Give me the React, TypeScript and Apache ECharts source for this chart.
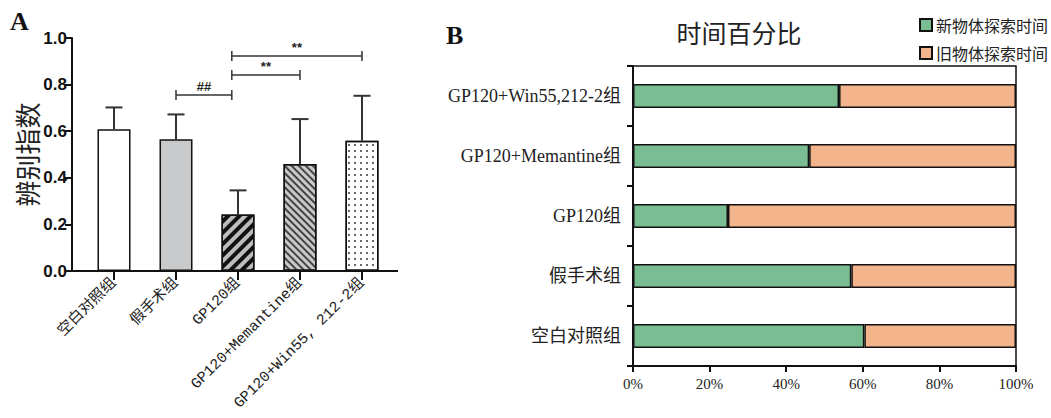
import React, { useEffect, useRef } from 'react';
import * as echarts from 'echarts';

// ---------- Panel A data ----------
const groupsA = ['空白对照组', '假手术组', 'GP120组', 'GP120+Memantine组', 'GP120+Win55, 212-2组'];
const meanA = [0.608, 0.565, 0.243, 0.459, 0.559];
const sdA = [0.094, 0.107, 0.103, 0.193, 0.193];
const sigPairs = [[1, 2], [2, 3], [2, 4]];
const sigLevels = [0.755, 0.841, 0.923];
const sigLabels = ['##', '**', '**'];
const yNameA = '辨别指数';

// ---------- Panel B data ----------
const groupsB = ['空白对照组', '假手术组', 'GP120组', 'GP120+Memantine组', 'GP120+Win55,212-2组'];
const newPct = [60.4, 57.0, 24.8, 46.0, 53.8];
const oldPct = [39.6, 43.0, 75.2, 54.0, 46.2];
const legendB = ['新物体探索时间', '旧物体探索时间'];
const titleB = '时间百分比';

// ---------- styles ----------
const barStylesA: any[] = [
  { color: '#ffffff' },
  { color: '#c8c9cb' },
  {
    color: '#bdbdbd',
    decal: { symbol: 'rect', color: '#111111', dashArrayX: [1, 0], dashArrayY: [3.2, 3.8], rotation: -Math.PI / 4 },
  },
  {
    color: '#c9c9c9',
    decal: { symbol: 'rect', color: '#444444', dashArrayX: [1, 0], dashArrayY: [1.2, 2.2], rotation: Math.PI / 4 },
  },
  {
    color: '#ffffff',
    decal: { symbol: 'rect', color: '#6a6a6a', dashArrayX: [1.3, 3.7], dashArrayY: [1.3, 3.7], rotation: 0 },
  },
];

const CJK = '"Noto Sans CJK SC", sans-serif';
const SERIF = '"Liberation Serif", "Times New Roman", "Noto Sans CJK SC", serif';
const MONO = '"Liberation Mono", "DejaVu Sans Mono", "Noto Sans CJK SC", monospace';
const SANS = '"Liberation Sans", Arial, sans-serif';

export default function App() {
  const ref = useRef<HTMLDivElement>(null);

  useEffect(() => {
    if (!ref.current) return;
    const chart = echarts.init(ref.current, null, { renderer: 'svg' });

    const option: any = {
      animation: false,
      backgroundColor: '#ffffff',
      title: {
        text: titleB,
        left: 734,
        top: 14,
        textAlign: 'center',
        textStyle: { fontFamily: CJK, fontSize: 25, fontWeight: 'normal', color: '#222' },
      },
      legend: {
        data: legendB,
        orient: 'vertical',
        left: 914,
        top: 12,
        itemWidth: 12,
        itemHeight: 12,
        itemGap: 12,
        icon: 'rect',
        textStyle: { fontFamily: CJK, fontSize: 16, color: '#222', lineHeight: 16, padding: [0, 0, 0, -1] },
      },
      graphic: [
        { type: 'text', left: 10, top: 8, style: { text: 'A', font: 'bold 26px "Liberation Serif", serif', fill: '#111' } },
        { type: 'text', left: 446, top: 22, style: { text: 'B', font: 'bold 26px "Liberation Serif", serif', fill: '#111' } },
        { type: 'line', shape: { x1: 71, y1: 271, x2: 398, y2: 271 }, style: { stroke: '#111', lineWidth: 2 } },
      ],
      grid: [
        { left: 83, top: 38, width: 310, height: 233, outerBoundsMode: 'none', containLabel: false },
        {
          left: 633,
          top: 66,
          width: 383,
          height: 300,
          show: true,
          borderColor: '#111',
          borderWidth: 1.5,
          outerBoundsMode: 'none',
          containLabel: false,
        },
      ],
      xAxis: [
        {
          gridIndex: 0,
          type: 'category',
          data: groupsA,
          axisLine: { show: false },
          axisTick: { show: true, alignWithLabel: true, length: 9, lineStyle: { color: '#111', width: 2 } },
          axisLabel: { rotate: 45, margin: 10, fontFamily: MONO, fontSize: 15, color: '#222', interval: 0 },
        },
        {
          gridIndex: 1,
          type: 'value',
          min: 0,
          max: 100,
          interval: 20,
          splitLine: { show: false },
          axisLine: { show: true, lineStyle: { color: '#111', width: 2 } },
          axisTick: { show: true, length: 6, lineStyle: { color: '#111', width: 2 } },
          axisLabel: { formatter: '{value}%', fontFamily: SERIF, fontSize: 15, color: '#222', margin: 10 },
        },
      ],
      yAxis: [
        {
          gridIndex: 0,
          type: 'value',
          min: 0,
          max: 1,
          interval: 0.2,
          offset: 11,
          name: yNameA,
          nameLocation: 'middle',
          nameGap: 32,
          nameTextStyle: { fontFamily: CJK, fontSize: 26, color: '#222' },
          splitLine: { show: false },
          axisLine: { show: true, lineStyle: { color: '#111', width: 2 } },
          axisTick: { show: true, length: 7, lineStyle: { color: '#111', width: 2 } },
          axisLabel: {
            formatter: (v: number) => v.toFixed(1),
            fontFamily: SANS,
            fontWeight: 'bold',
            fontSize: 17,
            color: '#111',
            margin: 5,
          },
        },
        {
          gridIndex: 1,
          type: 'category',
          data: groupsB,
          axisLine: { show: true, lineStyle: { color: '#111', width: 2 } },
          axisTick: { show: true, length: 6, lineStyle: { color: '#111', width: 2 } },
          axisLabel: { fontFamily: SERIF, fontSize: 18, color: '#222', margin: 12 },
        },
      ],
      series: [
        {
          type: 'bar',
          xAxisIndex: 0,
          yAxisIndex: 0,
          barWidth: 33,
          itemStyle: { borderColor: '#111', borderWidth: 1.5 },
          data: meanA.map((v, i) => ({ value: v, itemStyle: barStylesA[i] })),
          z: 2,
        },
        {
          type: 'custom',
          xAxisIndex: 0,
          yAxisIndex: 0,
          z: 3,
          data: meanA.map((m, i) => [i, m, sdA[i]]),
          encode: { x: 0, y: 1 },
          renderItem: (params: any, api: any) => {
            const i = api.value(0);
            const m = api.value(1);
            const e = api.value(2);
            const p0 = api.coord([i, m]);
            const p1 = api.coord([i, m + e]);
            const st = { stroke: '#333', lineWidth: 2 };
            return {
              type: 'group',
              children: [
                { type: 'line', shape: { x1: p0[0], y1: p0[1], x2: p1[0], y2: p1[1] }, style: st },
                { type: 'line', shape: { x1: p1[0] - 8.5, y1: p1[1], x2: p1[0] + 8.5, y2: p1[1] }, style: st },
              ],
            };
          },
        },
        {
          type: 'custom',
          xAxisIndex: 0,
          yAxisIndex: 0,
          z: 3,
          data: sigPairs.map((p, i) => [p[0], p[1], sigLevels[i]]),
          encode: { x: 0, y: 2 },
          renderItem: (params: any, api: any) => {
            const a = api.value(0);
            const b = api.value(1);
            const h = api.value(2);
            const band = api.size([1, 0])[0];
            const adj = (idx: number) => (idx === 2 ? -0.1 * band : 0);
            const pa = api.coord([a, h]);
            const pb = api.coord([b, h]);
            const xa = pa[0] + adj(a);
            const xb = pb[0] + adj(b);
            const y = pa[1];
            const st = { stroke: '#333', lineWidth: 1.5 };
            return {
              type: 'group',
              children: [
                { type: 'line', shape: { x1: xa, y1: y, x2: xb, y2: y }, style: st },
                { type: 'line', shape: { x1: xa, y1: y - 5, x2: xa, y2: y + 5 }, style: st },
                { type: 'line', shape: { x1: xb, y1: y - 5, x2: xb, y2: y + 5 }, style: st },
                {
                  type: 'text',
                  x: (xa + xb) / 2,
                  y: y - 2,
                  style: {
                    text: sigLabels[params.dataIndex],
                    fill: '#222',
                    font: 'bold 13px "Liberation Sans", Arial, sans-serif',
                    align: 'center',
                    verticalAlign: 'bottom',
                  },
                },
              ],
            };
          },
        },
        {
          name: legendB[0],
          type: 'bar',
          stack: 'pct',
          xAxisIndex: 1,
          yAxisIndex: 1,
          barWidth: 24,
          itemStyle: { color: '#7bbd93', borderColor: '#111', borderWidth: 1.5 },
          data: newPct,
        },
        {
          name: legendB[1],
          type: 'bar',
          stack: 'pct',
          xAxisIndex: 1,
          yAxisIndex: 1,
          barWidth: 24,
          itemStyle: { color: '#f3b38b', borderColor: '#111', borderWidth: 1.5 },
          data: oldPct,
        },
      ],
    };

    chart.setOption(option);
    return () => chart.dispose();
  }, []);

  return (
    <div
      ref={ref}
      style={{ position: 'fixed', left: 0, top: 0, width: 1051, height: 418, background: '#fff' }}
    />
  );
}
